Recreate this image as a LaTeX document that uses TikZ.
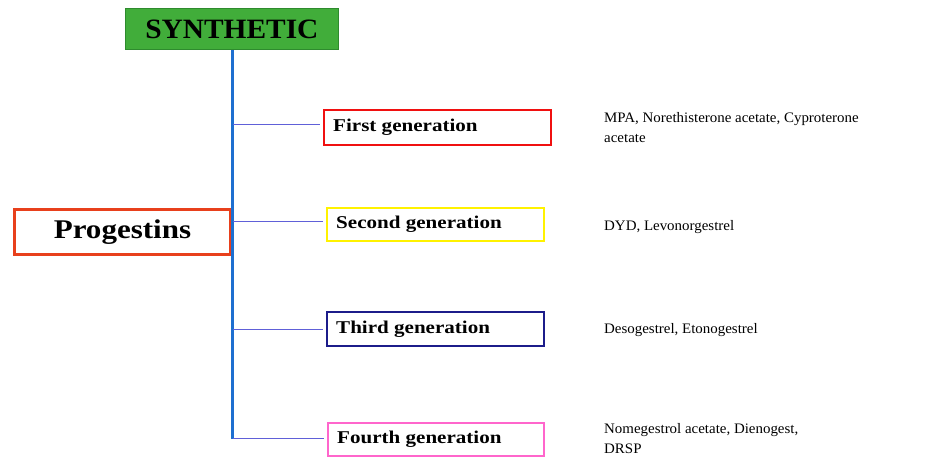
\documentclass[tikz,border=0pt]{standalone}
\usepackage{fontspec}
\usepackage{graphicx}
\setmainfont{Liberation Serif}
\definecolor{synthgreen}{HTML}{41AD3A}
\definecolor{synthborder}{HTML}{2E8B2E}
\definecolor{trunkblue}{HTML}{1E6FD0}
\definecolor{branchblue}{HTML}{6060D8}
\definecolor{progred}{HTML}{E8401C}
\definecolor{firstred}{HTML}{F01010}
\definecolor{secondyellow}{HTML}{FFF200}
\definecolor{thirdnavy}{HTML}{1C1C8A}
\definecolor{fourthpink}{HTML}{FF66CC}
\newcommand{\widen}[2]{\scalebox{#1}[1]{#2}}
\begin{document}
\begin{tikzpicture}[x=1pt,y=-1pt,
  genbox/.style={draw, line width=2.4pt, minimum height=#1, anchor=north west, inner sep=0pt},
  gentext/.style={font=\bfseries\fontsize{18}{20}\selectfont, anchor=west, inner sep=0pt},
  druglist/.style={font=\fontsize{14.5}{20.5}\selectfont, anchor=north west, inner sep=0pt, align=left},
  branch/.style={draw=branchblue, line width=1pt, shorten >=3pt},
  trunk/.style={draw=trunkblue, line width=3pt}]
\useasboundingbox (0,0) rectangle (940,457);
% header
\node[draw=synthborder, fill=synthgreen, line width=0.8pt, minimum width=213pt, minimum height=41pt, anchor=north west, inner sep=0pt,
  font=\bfseries\fontsize{28}{30}\selectfont] (synth) at (125,8) {\widen{1.05}{SYNTHETIC}};
% progestins
\node[draw=progred, line width=3pt, minimum width=216pt, minimum height=45pt, anchor=north west, inner sep=0pt,
  font=\bfseries\fontsize{27}{30}\selectfont] (prog) at (13,208) {\widen{1.15}{Progestins}};
% trunk
\coordinate (ttop) at (232,50);
\coordinate (tbot) at (232,439);
\draw[trunk] (ttop) -- (tbot);
% generation boxes
\node[genbox=35pt, draw=firstred, minimum width=227pt] (g1) at (323,109) {};
\node[genbox=33pt, draw=secondyellow, minimum width=217pt] (g2) at (326,207) {};
\node[genbox=34pt, draw=thirdnavy, minimum width=217pt] (g3) at (326,311) {};
\node[genbox=33pt, draw=fourthpink, minimum width=216pt] (g4) at (327,422) {};
\node[gentext] (t1) at (333,127) {\widen{1.17}{First generation}};
\node[gentext] (t2) at (336,224) {\widen{1.17}{Second generation}};
\node[gentext] (t3) at (336,329) {\widen{1.17}{Third generation}};
\node[gentext] (t4) at (337,439) {\widen{1.17}{Fourth generation}};
% branch coordinates
\coordinate (b1) at (233,125);
\coordinate (b2) at (233,222);
\coordinate (b3) at (233,329);
\coordinate (b4) at (233,438);
\draw[branch] (b1) -- (g1.west |- b1);
\draw[branch] (b2) -- (g2.west |- b2);
\draw[branch] (b3) -- (g3.west |- b3);
\draw[branch] (b4) -- (g4.west |- b4);
% drug lists
\node[druglist] (d1) at (604,112) {\widen{1.03}{MPA, Norethisterone acetate, Cyproterone}\\\widen{1.03}{acetate}};
\node[druglist] (d2) at (604,220) {\widen{1.03}{DYD, Levonorgestrel}};
\node[druglist] (d3) at (604,323) {\widen{1.03}{Desogestrel, Etonogestrel}};
\node[druglist] (d4) at (604,423) {\widen{1.03}{Nomegestrol acetate, Dienogest,}\\\widen{1.03}{DRSP}};
\end{tikzpicture}
\end{document}
